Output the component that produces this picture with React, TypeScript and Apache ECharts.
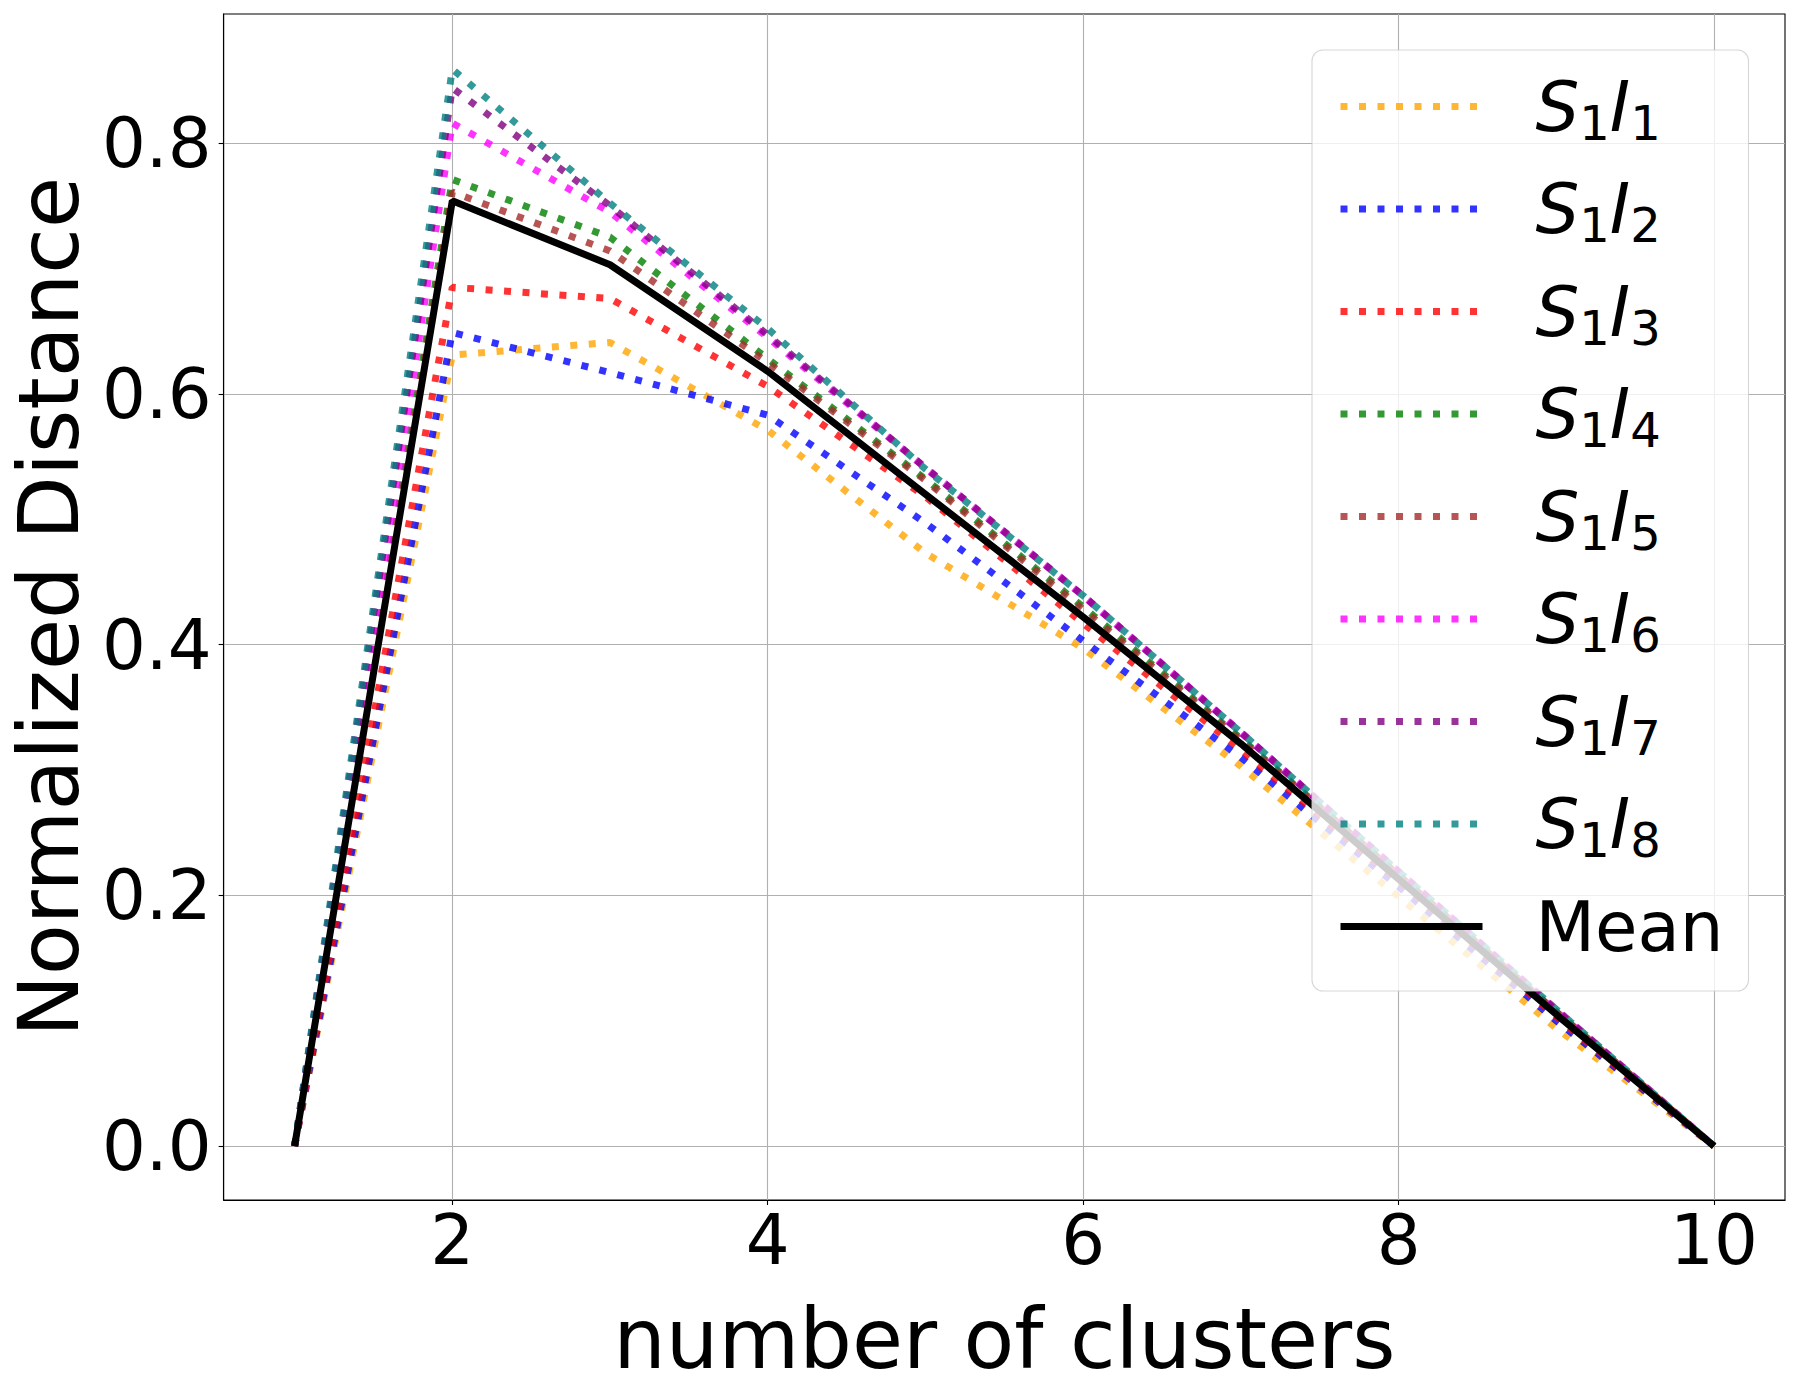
import React, { useEffect, useRef } from "react";
import * as echarts from "echarts";

const xValues = [1, 2, 3, 4, 5, 6, 7, 8, 9, 10];
const seriesNames = ["S1I1", "S1I2", "S1I3", "S1I4", "S1I5", "S1I6", "S1I7", "S1I8"];
const s1i1 = [0, 0.631, 0.641, 0.571, 0.473, 0.397, 0.303, 0.199, 0.094, 0];
const s1i2 = [0, 0.649, 0.617, 0.583, 0.497, 0.403, 0.31, 0.207, 0.1, 0];
const s1i3 = [0, 0.685, 0.676, 0.606, 0.518, 0.417, 0.316, 0.211, 0.103, 0];
const s1i4 = [0, 0.771, 0.725, 0.628, 0.532, 0.43, 0.325, 0.216, 0.107, 0];
const s1i5 = [0, 0.761, 0.714, 0.625, 0.531, 0.428, 0.324, 0.216, 0.107, 0];
const s1i6 = [0, 0.816, 0.745, 0.645, 0.541, 0.439, 0.33, 0.219, 0.108, 0];
const s1i7 = [0, 0.844, 0.75, 0.647, 0.541, 0.439, 0.33, 0.219, 0.109, 0];
const s1i8 = [0, 0.859, 0.752, 0.652, 0.54, 0.439, 0.33, 0.219, 0.109, 0];
const meanValues = [0, 0.754, 0.703, 0.618, 0.52, 0.422, 0.321, 0.213, 0.105, 0];
const meanName = "Mean";
const xTicks = [2, 4, 6, 8, 10];
const yTicks = [0, 0.2, 0.4, 0.6, 0.8];
const seriesColors = ["#FFA500", "#0000FF", "#FF0000", "#008000", "#A52A2A", "#FF00FF", "#800080", "#008080"];
const xTitle = "number of clusters";
const yTitle = "Normalized Distance";

const FONT = "DejaVu Sans";

export default function App() {
  const ref = useRef<HTMLDivElement>(null);
  useEffect(() => {
    if (!ref.current) return;
    const chart = echarts.init(ref.current, undefined, { renderer: "svg" });
    const allValues = [s1i1, s1i2, s1i3, s1i4, s1i5, s1i6, s1i7, s1i8];
    const series: any[] = allValues.map((vals, i) => ({
      type: "line",
      name: seriesNames[i],
      data: xValues.map((x, j) => [x, vals[j]]),
      symbol: "none",
      showSymbol: false,
      silent: true,
      itemStyle: { color: seriesColors[i] },
      lineStyle: { color: seriesColors[i], width: 7, type: [7, 11.5], opacity: 0.8, cap: "butt" },
    }));
    series.push({
      type: "line",
      name: meanName,
      data: xValues.map((x, j) => [x, meanValues[j]]),
      symbol: "none",
      showSymbol: false,
      silent: true,
      itemStyle: { color: "#000" },
      lineStyle: { color: "#000", width: 7, type: "solid" },
    });

    const option: any = {
      animation: false,
      backgroundColor: "#fff",
      grid: {
        left: 223,
        right: 15,
        top: 14,
        bottom: 200,
        show: true,
        borderColor: "#000",
        borderWidth: 1.1,
        backgroundColor: "transparent",
      },
      xAxis: {
        type: "value",
        min: 0.55,
        max: 10.45,
        axisLine: { show: true, onZero: false, lineStyle: { color: "#000", width: 1.1 } },
        axisTick: { show: true, customValues: xTicks, length: 5, lineStyle: { color: "#000", width: 1.1 } },
        axisLabel: {
          customValues: xTicks,
          fontFamily: FONT,
          fontSize: 69,
          lineHeight: 69,
          color: "#000",
          margin: 5,
          formatter: (v: number) => String(v),
        },
        splitLine: { show: true, lineStyle: { color: "#b0b0b0", width: 1.1 } },
        name: xTitle,
        nameLocation: "middle",
        nameGap: 98,
        nameTextStyle: { fontFamily: FONT, fontSize: 83, lineHeight: 83, color: "#000" },
      },
      yAxis: {
        type: "value",
        min: -0.043,
        max: 0.903,
        axisLine: { show: true, onZero: false, lineStyle: { color: "#000", width: 1.1 } },
        axisTick: { show: true, customValues: yTicks, length: 5, lineStyle: { color: "#000", width: 1.1 } },
        axisLabel: {
          customValues: yTicks,
          fontFamily: FONT,
          fontSize: 69,
          lineHeight: 69,
          color: "#000",
          margin: 12,
          padding: [10, 0, 0, 0],
          formatter: (v: number) => v.toFixed(1),
        },
        splitLine: { show: true, lineStyle: { color: "#b0b0b0", width: 1.1 } },
        name: yTitle,
        nameLocation: "middle",
        nameGap: 127,
        nameTextStyle: { fontFamily: FONT, fontSize: 83, lineHeight: 83, color: "#000" },
      },
      legend: {
        orient: "vertical",
        left: 1312,
        top: 50,
        padding: [22, 25, 30, 25],
        itemWidth: 142,
        itemHeight: 14,
        itemGap: 28,
        selectedMode: false,
        backgroundColor: "rgba(255,255,255,0.8)",
        borderColor: "rgba(204,204,204,0.8)",
        borderWidth: 1.1,
        borderRadius: 11,
        lineStyle: { width: 7 },
        itemStyle: { opacity: 0, borderWidth: 0 },
        data: [...seriesNames, meanName],
        formatter: (name: string) => {
          if (name === meanName) return "{m|" + name + "}";
          const n = name.slice(3);
          return "{it|S}{sub|1}{it|I}{sub|" + n + "}";
        },
        textStyle: {
          fontFamily: FONT,
          fontSize: 69,
          color: "#000",
          padding: [0, 0, 0, 48],
          rich: {
            it: { fontFamily: FONT, fontStyle: "italic", fontSize: 69, lineHeight: 80, color: "#000" },
            sub: { fontFamily: FONT, fontSize: 48, lineHeight: 44, verticalAlign: "bottom", color: "#000" },
            m: { fontFamily: FONT, fontSize: 69, lineHeight: 80, color: "#000" },
          },
        },
      },
      series,
    };
    chart.setOption(option);
    return () => chart.dispose();
  }, []);
  return (
    <div
      ref={ref}
      style={{ position: "absolute", left: 0, top: 0, width: 1800, height: 1400, background: "#fff" }}
    />
  );
}
